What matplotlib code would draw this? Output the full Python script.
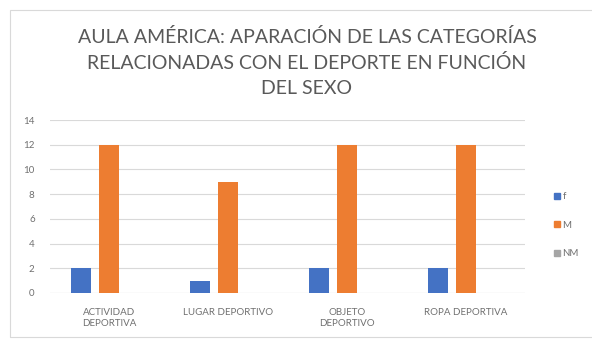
import matplotlib
matplotlib.use("Agg")
import matplotlib.pyplot as plt
from matplotlib.patches import Rectangle
from matplotlib.lines import Line2D
import numpy as np

categories = ["ACTIVIDAD\nDEPORTIVA", "LUGAR DEPORTIVO", "OBJETO\nDEPORTIVO", "ROPA DEPORTIVA"]
series_names = ["f", "M", "NM"]
f_values = [2, 1, 2, 2]
m_values = [12, 9, 12, 12]
nm_values = [0, 0, 0, 0]
y_ticks = [0, 2, 4, 6, 8, 10, 12, 14]
title = "AULA AMÉRICA: APARACIÓN DE LAS CATEGORÍAS\nRELACIONADAS CON EL DEPORTE EN FUNCIÓN\nDEL SEXO"

colors = ["#4472C4", "#ED7D31", "#A5A5A5"]
text_gray = "#595959"

plt.rcParams["font.family"] = ["Lato", "DejaVu Sans"]

fig = plt.figure(figsize=(5.92, 3.39), dpi=100)
fig.patch.set_facecolor("white")

# light chart-area frame
fig.add_artist(Rectangle((10 / 592, 0.005), 0.99, 1 - 10 / 339 - 0.005,
                         transform=fig.transFigure, fill=False,
                         edgecolor="#D9D9D9", linewidth=0.8))

ax = fig.add_axes([50 / 592, 1 - 293 / 339, 475 / 592, 173 / 339])
x = np.arange(len(categories))
width = 0.168
offset = 0.236
for i, (vals, name) in enumerate(zip([f_values, m_values, nm_values], series_names)):
    ax.bar(x + (i - 1) * offset, vals, width, color=colors[i], label=name, zorder=3)

ax.set_xlim(-0.5, len(categories) - 0.5)
ax.set_ylim(0, 14)
ax.set_yticks(y_ticks)
ax.set_yticklabels([str(t) for t in y_ticks])
ax.set_xticks(x)
ax.set_xticklabels(categories, linespacing=1.25)
ax.tick_params(axis="both", length=0, labelsize=7, labelcolor="#707070")
ax.tick_params(axis="y", pad=11)
ax.tick_params(axis="x", pad=11)
ax.grid(axis="y", color="#D9D9D9", linewidth=0.8, zorder=0)
for s in ax.spines.values():
    s.set_visible(False)
ax.axhline(0, color="#D9D9D9", linewidth=0.8, zorder=1)

fig.text(307 / 592, 1 - 28 / 339, title, ha="center", va="top",
         fontsize=14, color=text_gray, linespacing=1.55)

handles = [Line2D([0], [0], marker="s", linestyle="none", markersize=4,
                  markerfacecolor=c, markeredgecolor=c) for c in colors]
fig.legend(handles, series_names, loc="center left",
           bbox_to_anchor=(549 / 592, 1 - 225 / 339), frameon=False,
           fontsize=7, labelcolor="#707070", handlelength=0.6,
           handletextpad=0.3, labelspacing=2.0, borderpad=0)

fig.savefig("out.png", dpi=100, facecolor="white")
